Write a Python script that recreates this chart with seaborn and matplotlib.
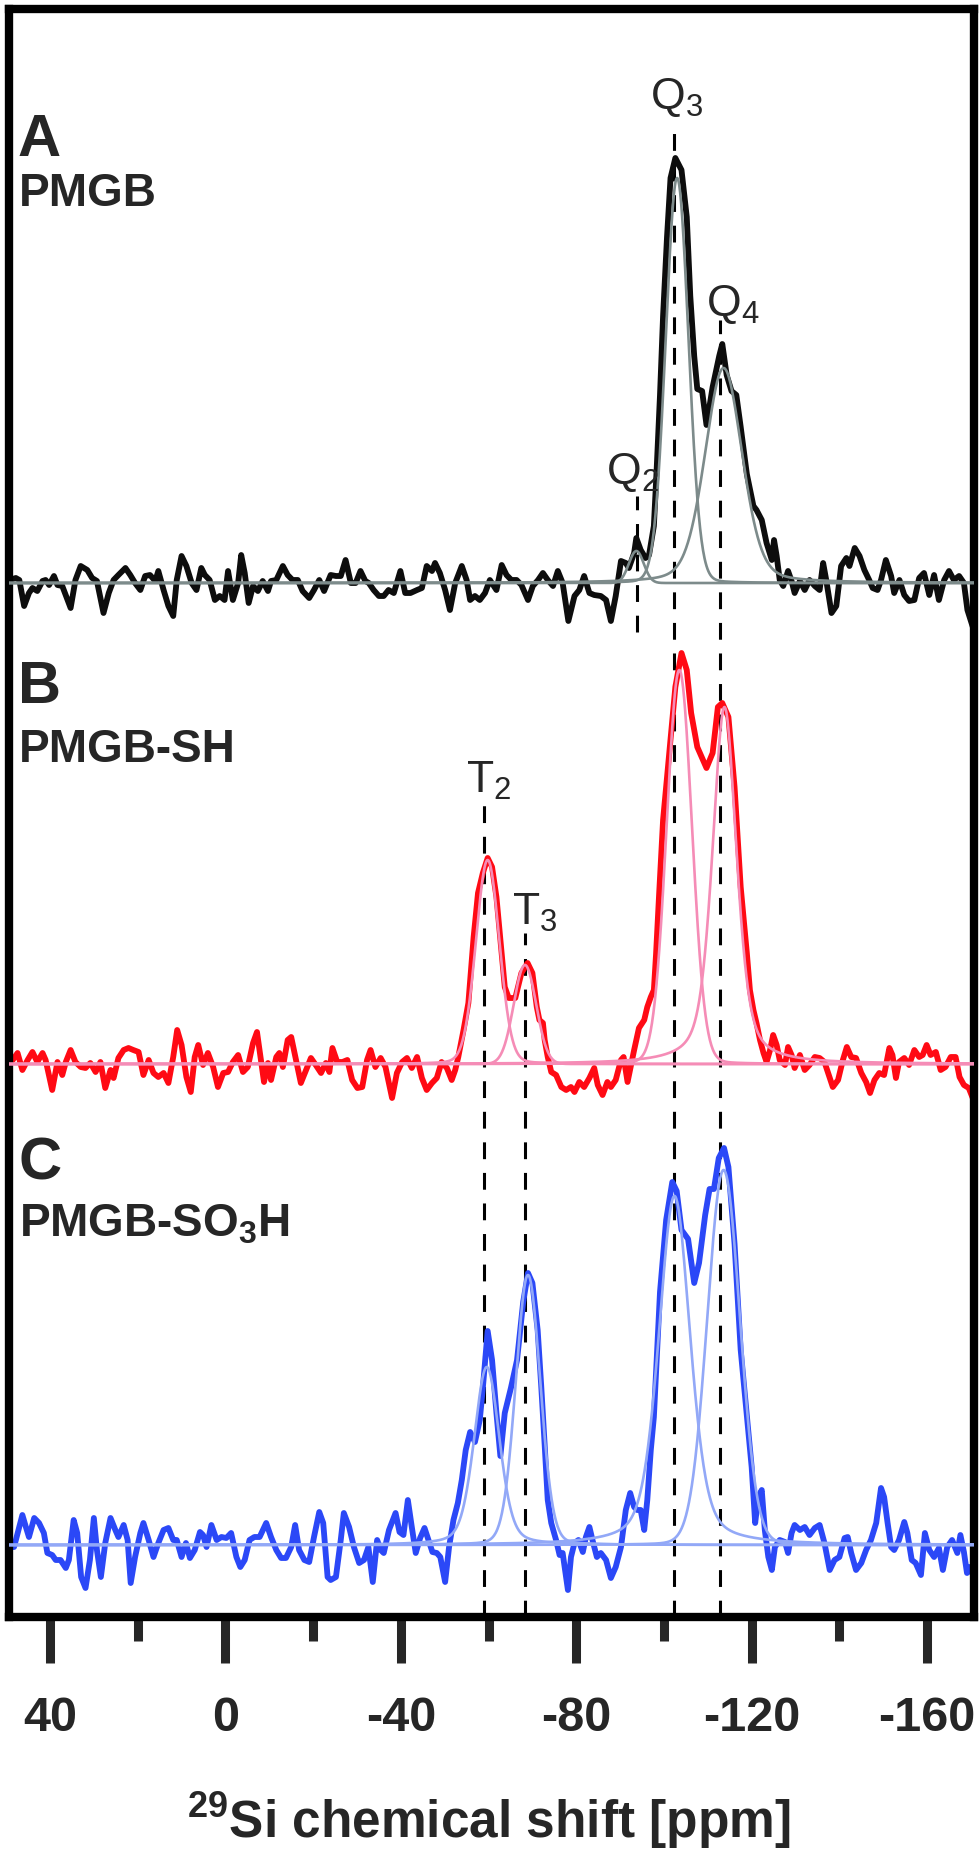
import numpy as np
import pandas as pd
import matplotlib
matplotlib.use('Agg')
import matplotlib.pyplot as plt
import seaborn as sns

# 29Si NMR spectra (intensity in arbitrary units)

# A: PMGB
a_ppm = [49.2, 47.8, 47.0, 45.9, 44.8, 44.0, 42.9, 41.7, 41.0, 40.2, 39.1, 38.3, 37.2, 35.3, 34.2, 33.0, 31.5, 30.4,
         29.3, 27.8, 26.6, 25.5, 24.4, 22.8, 21.7, 20.6, 19.4, 18.3, 17.2, 16.0, 15.3, 14.1, 13.0, 11.9, 11.1, 10.0,
         8.9, 7.7, 6.6, 5.5, 4.7, 3.6, 2.4, 1.3, 0.2, -0.6, -1.7, -2.9, -3.6, -4.4, -5.3, -6.3, -7.4, -8.5, -9.7,
         -10.4, -11.6, -13.1, -14.2, -15.3, -16.5, -17.6, -19.1, -20.2, -21.4, -22.5, -24.0, -25.2, -26.3, -27.4,
         -28.6, -29.7, -30.8, -31.9, -32.7, -33.8, -35.0, -36.1, -37.2, -38.4, -39.9, -41.0, -42.2, -43.7, -44.8,
         -45.9, -47.1, -47.8, -48.9, -50.1, -51.2, -52.4, -53.9, -55.0, -55.8, -56.9, -58.0, -59.2, -60.3, -61.8,
         -63.0, -64.1, -65.2, -66.4, -67.5, -69.0, -70.1, -71.3, -72.4, -73.5, -74.7, -75.8, -76.9, -78.2, -79.6,
         -80.7, -81.8, -83.0, -84.1, -85.6, -86.8, -87.9, -89.0, -90.2, -91.3, -92.0, -93.2, -93.7, -94.7, -95.8,
         -96.6, -97.7, -98.3, -99.1, -99.8, -100.7, -101.5, -102.6, -104.0, -105.2, -106.0, -106.9, -107.6, -108.7,
         -109.7, -111.1, -112.6, -113.3, -114.3, -115.4, -116.5, -117.5, -118.9, -120.4, -121.1, -122.3, -123.4,
         -124.6, -125.1, -125.7, -126.4, -127.2, -128.3, -129.1, -129.8, -131.0, -132.1, -133.2, -134.4, -135.5,
         -136.3, -137.0, -138.2, -139.3, -140.4, -141.6, -142.3, -143.5, -144.6, -145.7, -146.8, -147.6, -148.7,
         -149.5, -150.6, -151.8, -152.5, -153.7, -154.8, -155.9, -157.1, -158.2, -159.3, -160.5, -161.6, -162.7,
         -163.9, -165.0, -166.1, -167.3, -168.4, -169.2, -170.5]
a_int = [3, 5, 3, -23, -10, -5, -8, 2, 3, -2, 7, -2, -3, -25, 3, 17, 13, 5,
         2, -30, -10, 3, 8, 15, 8, 0, -7, 7, 8, 2, 12, -7, -23, -33, 3, 27,
         17, 0, -7, 15, 8, 3, -17, -13, -17, 12, -17, 0, 28, 10, -20, -3, -8, 2, -8,
         2, 3, 17, 8, 3, 3, -8, -15, -7, 3, -8, 8, 7, 7, 23,
         0, 0, 12, 2, 0, -7, -13, -13, -7, -10, 12, -10, -10, -7, -5,
         17, 12, 20, 10, -7, -27, 0, 17, 3, -17, -13, -17, -10, 3, -7,
         18, 8, 3, 3, -2, -17, -3, 3, 10, 3, -3, 12, 0, -38, -13,
         -7, 7, -10, -12, -13, -17, -38, -13, 22, 20, 15, 30, 45, 33, 25,
         28, 57, 110, 188, 267, 346, 405, 425, 413, 366, 287, 227, 194, 192,
         158, 196, 227, 239, 208, 192, 188, 156, 109, 77, 73, 63, 40,
         23, 43, 27, 3, -3, 12, 2, -10, 2, -7, 3, -3, -7,
         20, 3, -30, -23, 17, 25, 17, 35, 27, 13, 3, -5, -7,
         3, 23, 7, -10, 3, -12, -18, -17, 5, 10, -12, 8, -17,
         3, 12, 3, 7, 0, -27, -45]

# B: PMGB-SH
b_ppm = [49.2, 48.5, 47.4, 46.3, 45.1, 44.0, 42.9, 41.7, 41.0, 39.5, 38.3, 37.2, 36.4, 35.3, 34.2, 33.0, 31.9, 30.8,
         29.6, 28.5, 27.4, 26.2, 25.5, 24.4, 23.2, 22.1, 21.0, 19.8, 18.7, 17.5, 16.4, 15.3, 14.1, 13.0, 11.9, 11.0,
         10.0, 8.9, 7.9, 7.0, 6.2, 5.1, 4.0, 2.8, 1.7, 0.5, -0.6, -1.7, -2.9, -4.0, -5.1, -6.3, -7.2, -8.2, -8.8,
         -9.7, -10.4, -11.6, -12.3, -13.1, -14.2, -15.0, -16.1, -17.2, -18.4, -19.5, -20.6, -21.8, -22.9, -23.7,
         -24.4, -25.5, -26.7, -27.8, -28.9, -30.1, -31.2, -32.3, -33.1, -34.2, -35.4, -36.5, -38.0, -39.1, -40.3,
         -41.4, -42.5, -43.7, -44.8, -45.9, -47.1, -48.2, -49.3, -50.5, -51.6, -52.4, -53.1, -54.3, -55.4, -56.6,
         -57.6, -58.7, -59.8, -60.8, -61.8, -62.7, -63.7, -64.6, -66.1, -67.5, -68.9, -70.0, -71.0, -71.6, -72.4,
         -72.8, -73.5, -74.3, -75.4, -76.6, -77.7, -78.8, -79.6, -80.7, -81.8, -83.0, -84.1, -84.9, -86.0, -87.1,
         -87.9, -89.0, -90.2, -90.8, -91.7, -92.4, -93.2, -94.3, -95.5, -96.2, -97.0, -97.7, -98.2, -98.9, -99.8,
         -101.2, -102.6, -104.0, -105.2, -106.2, -107.6, -109.7, -111.1, -112.3, -113.3, -114.7, -116.1, -117.5,
         -118.9, -119.6, -120.4, -121.1, -121.9, -122.7, -123.4, -124.2, -124.9, -125.7, -126.4, -127.6, -128.3,
         -129.1, -129.8, -131.0, -132.1, -133.2, -134.4, -135.5, -136.6, -137.8, -138.5, -139.7, -140.8, -141.7,
         -142.7, -143.8, -145.0, -146.1, -147.0, -148.0, -149.1, -150.2, -151.4, -152.1, -152.9, -153.6, -154.8,
         -155.9, -157.1, -158.2, -159.0, -159.9, -160.8, -162.0, -163.1, -164.2, -165.4, -166.5, -167.4, -168.4,
         -169.5, -170.5]
b_int = [2, 4, 11, -6, 4, 12, 2, 11, 4, -26, 2, -11, 2, 14, 2, -3, -4, 1,
         -8, 2, -24, -6, -14, 6, 14, 16, 14, 12, -11, 4, -9, -13, -9, -19, 7, 34,
         19, -13, -28, 7, 19, -1, 11, -3, -23, -9, -8, 2, 9, -8, -3, 21, 32, 1, -18,
         1, -16, 7, 11, -3, 24, 27, 4, -19, -6, 6, -1, -9, 1, -8,
         16, 2, 2, 4, -16, -24, -23, 4, 14, -3, 6, -3, -34, -9, 2,
         6, -4, 7, -14, -26, -19, -14, 2, -4, -16, -6, 7, 34, 61, 127,
         171, 191, 206, 197, 167, 124, 77, 66, 66, 91, 101, 91, 57, 44, 41,
         24, 7, -8, -11, -23, -26, -23, -28, -18, -23, -14, -4, -21, -31, -18,
         -23, -16, 4, 7, -18, -3, 14, 36, 44, 57, 67, 74, 110, 170, 244,
         311, 377, 411, 394, 351, 317, 296, 311, 357, 361, 347, 277, 177,
         111, 74, 54, 41, 24, 11, 2, 14, 29, 19, 4, -1, 17,
         9, -4, 9, -6, -1, 7, 6, 2, -14, -23, -16, 4, 17,
         7, 6, -9, -18, -29, -16, -9, -11, 16, 9, -14, 2, 6,
         -1, 14, 7, 9, 19, 9, 12, -6, -3, 7, 7, -13, -21,
         -24, -35]

# C: PMGB-SO3H
c_ppm = [49.2, 48.2, 47.0, 46.3, 45.5, 44.8, 43.6, 42.5, 41.4, 40.6, 39.5, 38.7, 37.6, 36.4, 35.7, 34.6, 33.8, 32.9,
         31.9, 30.9, 30.0, 29.3, 28.4, 27.4, 26.2, 25.1, 24.4, 23.2, 22.3, 21.6, 20.6, 19.4, 18.7, 17.5, 16.4, 15.3,
         14.1, 13.0, 11.9, 11.1, 10.0, 9.0, 8.1, 7.0, 5.8, 5.1, 4.3, 3.2, 2.0, 0.9, -0.2, -1.3, -2.5, -3.4, -4.4,
         -5.5, -6.6, -7.8, -9.3, -10.4, -11.6, -12.7, -13.8, -15.0, -15.9, -16.8, -18.0, -19.1, -20.2, -21.4, -22.3,
         -23.3, -24.0, -25.2, -26.3, -27.0, -28.2, -29.3, -30.5, -31.6, -32.6, -33.6, -34.6, -35.4, -36.1, -37.3,
         -38.8, -39.7, -40.6, -41.6, -42.5, -43.4, -44.4, -45.4, -46.3, -47.2, -48.2, -49.0, -50.1, -51.0, -52.0,
         -53.0, -53.9, -54.8, -55.8, -56.9, -58.0, -58.7, -59.8, -60.8, -61.8, -62.7, -63.7, -65.1, -66.5, -67.9,
         -69.0, -70.0, -71.2, -72.0, -72.8, -73.5, -74.3, -75.4, -76.2, -76.9, -78.1, -78.8, -79.6, -80.5, -81.5,
         -82.2, -83.0, -83.7, -84.7, -85.6, -86.8, -87.9, -89.0, -90.2, -91.3, -92.3, -93.2, -93.9, -94.7, -95.5,
         -96.2, -97.0, -97.7, -99.1, -100.5, -101.9, -102.9, -104.0, -105.5, -106.9, -108.0, -109.4, -110.4,
         -111.4, -112.5, -113.7, -114.7, -116.1, -117.5, -118.9, -120.0, -120.8, -121.5, -122.3, -123.0, -123.8,
         -124.6, -125.3, -126.4, -127.6, -128.3, -129.1, -129.8, -131.0, -132.1, -133.2, -134.4, -135.5, -136.6,
         -137.8, -138.9, -140.0, -141.2, -141.9, -142.7, -143.8, -145.0, -146.1, -147.2, -148.4, -149.5, -150.2,
         -151.0, -151.8, -152.5, -153.6, -154.8, -155.5, -156.5, -157.4, -158.6, -159.5, -160.5, -161.6, -162.7,
         -163.6, -164.6, -165.7, -166.9, -167.6, -168.4, -169.1, -169.7, -170.5]
c_int = [-2, -2, 18, 30, 18, 8, 27, 22, 12, -8, -10, -15, -15, -23, -15, 25, 12, -32,
         -43, -15, 27, -5, -32, 2, 27, 15, 8, 20, 5, -38, -12, 12, 22, 5, -12, 2,
         15, 17, 5, 5, -12, 2, -13, -5, 13, 10, -2, 20, 5, 8, 7, 12, -12, -22, -15,
         5, 8, 8, 22, 8, -5, -13, -13, -2, 20, -5, -15, -17, 8, 33, 22,
         -32, -35, -32, 5, 32, 18, -2, -18, -15, -2, -37, 5, -5, -8, 15,
         32, 13, 10, 45, 18, -8, 7, 17, 5, -7, -8, -12, -37, -2, 25,
         42, 65, 95, 113, 103, 125, 157, 214, 185, 132, 89, 132, 157, 185, 243,
         272, 262, 215, 160, 100, 45, 22, 5, -10, -8, -45, -12, 2, 5, -7,
         8, 18, 5, -12, -8, -15, -33, -22, -2, 35, 52, 38, 35, 35, 15,
         45, 95, 128, 253, 325, 363, 354, 315, 306, 262, 282, 330, 356,
         356, 387, 397, 378, 301, 195, 130, 78, 22, 48, 55, 15, -12,
         -25, -2, 5, 3, -8, 12, 20, 15, 18, 10, 17, 20, 2,
         -25, -15, -12, 7, 8, -8, -25, -18, -5, 5, 22, 57, 48,
         22, -2, -5, 5, 23, 12, -15, -18, -30, 12, -5, -12, -3,
         -25, -2, 5, -8, 10, -7, -28, -22, -30]

# fitted components: centre (ppm), height, fwhm (ppm), lorentz fraction
a_peaks = [(-93.7, 32, 4.0, 0.0), (-103.0, 405, 6.1, 0.05), (-113.6, 215, 10.0, 0.25)]
b_peaks = [(-59.8, 204, 6.3, 0.1), (-68.3, 99, 6.0, 0.0), (-103.5, 394, 6.8, 0.05), (-113.8, 357, 6.5, 0.5)]
c_peaks = [(-59.6, 178, 6.8, 0.3), (-69.0, 270, 6.6, 0.1), (-102.4, 349, 8.5, 0.4), (-113.6, 375, 8.8, 0.05)]

# dashed guide lines: position (ppm), top (y), bottom (y)
guide_ppm = [-93.8, -102.4, -112.8, -59.0, -68.3]
guide_top = [1049, 1413, 1225, 745, 612]
guide_bottom = [913, -72, -72, -72, -72]

label_text = ['Q$_2$', 'Q$_3$', 'Q$_4$', 'T$_2$', 'T$_3$']
label_ppm = [-86.8, -96.9, -109.6, -54.9, -65.4]
label_y = [1061, 1436, 1229, 752, 620]

names = ['PMGB', 'PMGB-SH', 'PMGB-SO$_3$H']
letters = ['A', 'B', 'C']
offsets = [962, 481, 0]
data_colors = ['#0d0d0d', '#ff0a14', '#2b48f7']
fit_colors = ['#7d8b8b', '#f58cb6', '#92a8f7']

major_ticks = [40, 0, -40, -80, -120, -160]
minor_ticks = [20, -20, -60, -100, -140]


def pvoigt(x, c, h, w, eta):
    g = np.exp(-4 * np.log(2) * ((x - c) / w) ** 2)
    l = 1 / (1 + 4 * ((x - c) / w) ** 2)
    return h * (eta * l + (1 - eta) * g)


sns.set_style('white')
plt.rcParams['font.family'] = ['Liberation Sans', 'DejaVu Sans']
plt.rcParams['mathtext.default'] = 'regular'
plt.rcParams['axes.unicode_minus'] = False

fig = plt.figure(figsize=(9.8, 18.54), dpi=100)
ax = fig.add_axes([9 / 980, 1 - 1617 / 1854, 965 / 980, 1608 / 1854])

# guides
for xp, yt, yb in zip(guide_ppm, guide_top, guide_bottom):
    ax.plot([xp, xp], [yb, yt], color='black', lw=2.2, ls=(0, (5.5, 4.5)), zorder=1)

traces = [(a_ppm, a_int), (b_ppm, b_int), (c_ppm, c_int)]
grid = np.linspace(50, -172, 2000)
for (xs, ys), off, col, fcol, peaks in zip(traces, offsets, data_colors, fit_colors,
                                           [a_peaks, b_peaks, c_peaks]):
    df = pd.DataFrame({'ppm': xs, 'intensity': np.array(ys) + off})
    sns.lineplot(data=df, x='ppm', y='intensity', color=col, lw=4.2, sort=False,
                 estimator=None, ax=ax, zorder=2, solid_joinstyle='round')
    for c, h, w, eta in peaks:
        sns.lineplot(x=grid, y=pvoigt(grid, c, h, w, eta) + off, color=fcol, lw=1.9,
                     sort=False, estimator=None, ax=ax, zorder=3)

for t, xp, yp in zip(label_text, label_ppm, label_y):
    ax.text(xp, yp, t, fontsize=32, ha='left', va='baseline', zorder=4)

ax.set_xlim(49.35, -170.7)
ax.set_ylim(-72, 1536)
ax.set_xticks(major_ticks)
ax.set_xticklabels([str(t) for t in major_ticks], fontweight='bold', fontsize=35)
ax.set_xticks(minor_ticks, minor=True)
ax.set_yticks([])
ax.tick_params(axis='x', which='major', direction='out', length=33, width=6.5, pad=24, bottom=True)
ax.tick_params(axis='x', which='minor', direction='out', length=17, width=6.5, bottom=True)
for s in ax.spines.values():
    s.set_visible(True)
    s.set_linewidth(6)
    s.set_color('black')
ax.set_xlabel('')
ax.set_ylabel('')

letter_y = [156, 703, 1179]
name_y = [206, 762, 1237]
for let, nm, ly, ny in zip(letters, names, letter_y, name_y):
    fig.text(18 / 980, 1 - ly / 1854, let, fontsize=43, fontweight='bold', va='baseline')
    fig.text(19 / 980, 1 - ny / 1854, nm, fontsize=33, fontweight='bold', va='baseline')

fig.text(0.499, 1 - 1838 / 1854, '$^{29}$Si chemical shift [ppm]', fontsize=37,
         fontweight='bold', ha='center', va='baseline')

fig.savefig('out.png', dpi=100)
